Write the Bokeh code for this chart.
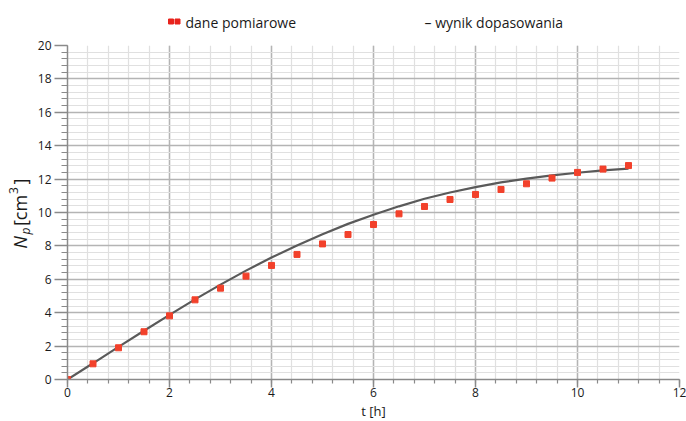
import math
from bokeh.plotting import figure
from bokeh.layouts import column, row
from bokeh.models import Range1d, SingleIntervalTicker, Title
from bokeh.core.properties import value
from bokeh.embed import file_html
from bokeh.resources import INLINE

# measured data (t in h, Np in cm3)
t_meas = [0, 0.5, 1, 1.5, 2, 2.5, 3, 3.5, 4, 4.5, 5, 5.5, 6, 6.5, 7, 7.5, 8, 8.5, 9, 9.5, 10, 10.5, 11]
np_meas = [0, 0.94, 1.9, 2.86, 3.81, 4.77, 5.47, 6.19, 6.83, 7.49, 8.12, 8.68, 9.28, 9.92,
           10.36, 10.78, 11.08, 11.38, 11.72, 12.06, 12.4, 12.6, 12.81]

# fitted curve
t_fit = [0, 0.5, 1, 1.5, 2, 2.5, 3, 3.5, 4, 4.5, 5, 5.5, 6, 6.5, 7, 7.5, 8, 8.5, 9, 9.5, 10, 10.5, 11]
np_fit = [0, 0.97, 1.95, 2.92, 3.87, 4.8, 5.68, 6.52, 7.3, 8.03, 8.7, 9.32, 9.87, 10.37,
          10.82, 11.2, 11.52, 11.8, 12.03, 12.22, 12.38, 12.52, 12.63]

legend_labels = ["dane pomiarowe", "\u2013 wynik dopasowania"]
x_label = "t [h]"
y_label = ["N", "p", "[cm", "3", "]"]

FONT = value("Open Sans")
TXT = "#1a1a1a"
RED = "#f2412b"

W, H = 686, 421
LEG_H = 35
ROW_H = H - LEG_H
YL_W = 34
TOP_B, BOT_B = 10, 42          # borders of the chart row (frame spans page y 45..379)


def blank(w, h, top=0, bottom=0):
    f = figure(width=w, height=h, x_range=Range1d(0, w),
               y_range=Range1d(H - (LEG_H + h - bottom) if h != LEG_H else 0,
                               H - (LEG_H + top) if h != LEG_H else h),
               output_backend="svg", toolbar_location=None,
               x_axis_type=None, y_axis_type=None, min_border=0,
               min_border_top=top, min_border_bottom=bottom)
    f.outline_line_color = None
    f.background_fill_color = "white"
    f.border_fill_color = "white"
    f.grid.visible = False
    return f


# ---- legend strip (top); local y = LEG_H - page y ----
leg = blank(W, LEG_H)
leg.scatter([170.5, 177], [LEG_H - 21, LEG_H - 21], marker="square", size=5,
            fill_color="#e8231c", line_color="#e8231c")
leg.text([185], [LEG_H - 21.5], text=[legend_labels[0]], text_font=FONT, text_font_size="14px",
         text_color=TXT, text_baseline="middle", text_align="left")
leg.text([424], [LEG_H - 21.5], text=[legend_labels[1]], text_font=FONT, text_font_size="14px",
         text_color=TXT, text_baseline="middle", text_align="left")

# ---- y-axis label strip (left); frame matches the chart frame, local y = H - page y ----
yl = blank(YL_W, ROW_H, top=TOP_B, bottom=BOT_B)
A = math.pi / 2


def ytext(cx, cy, s, size, style="normal"):
    yl.text([cx], [H - cy], text=[s], text_font=FONT, text_font_size=size,
            text_font_style=style, angle=A, text_color=TXT,
            text_align="center", text_baseline="middle")


ytext(19.5, 242, y_label[0], "18px", "italic")
ytext(24.5, 230.5, y_label[1], "12px", "italic")
ytext(19.5, 210, y_label[2], "18px")
ytext(13, 190, y_label[3], "12px")
ytext(19.5, 181, y_label[4], "18px")

# ---- main chart ----
p = figure(width=W - YL_W, height=ROW_H, x_range=Range1d(0, 12), y_range=Range1d(0, 20),
           output_backend="svg", toolbar_location=None,
           min_border_left=66 - YL_W, min_border_right=7,
           min_border_top=TOP_B, min_border_bottom=BOT_B)
p.outline_line_color = None
p.background_fill_color = "white"
p.border_fill_color = "white"

xt = SingleIntervalTicker(interval=2, num_minor_ticks=5)
yt = SingleIntervalTicker(interval=2, num_minor_ticks=5)
p.xaxis.ticker = xt
p.yaxis.ticker = yt
p.xgrid.ticker = xt
p.ygrid.ticker = yt

for g in (p.xgrid, p.ygrid):
    g.grid_line_color = "#b4b4b4"
    g.grid_line_width = 1.5
    g.minor_grid_line_color = "#e0e0e0"
    g.minor_grid_line_width = 1.2

for ax in (p.xaxis, p.yaxis):
    ax.axis_line_color = "#8a8a8a"
    ax.axis_line_width = 1.5
    ax.major_tick_line_color = "#8a8a8a"
    ax.major_tick_line_width = 1.5
    ax.minor_tick_line_color = "#8a8a8a"
    ax.minor_tick_line_width = 1.2
    ax.major_tick_in = 0
    ax.minor_tick_in = 0
    ax.major_label_text_font = "Open Sans"
    ax.major_label_text_font_size = "12px"
    ax.major_label_text_color = TXT
    ax.axis_label = None

p.xaxis.major_tick_out = 8
p.xaxis.minor_tick_out = 4
p.xaxis.major_label_standoff = 0
p.yaxis.major_tick_out = 13
p.yaxis.minor_tick_out = 6
p.yaxis.major_label_standoff = 3

p.line(t_fit, np_fit, line_color="#5a5a5a", line_width=2.2)
p.scatter(t_meas, np_meas, marker="square", size=6, fill_color=RED, line_color=RED)

# x-axis label as a title in the bottom panel
p.add_layout(Title(text=x_label, align="center", text_font="Open Sans", text_font_size="13px",
                   text_font_style="normal", text_color=TXT, standoff=0), "below")

layout = column(leg, row(yl, p, spacing=0), spacing=0)

open("out.html", "w").write(file_html(layout, INLINE))
